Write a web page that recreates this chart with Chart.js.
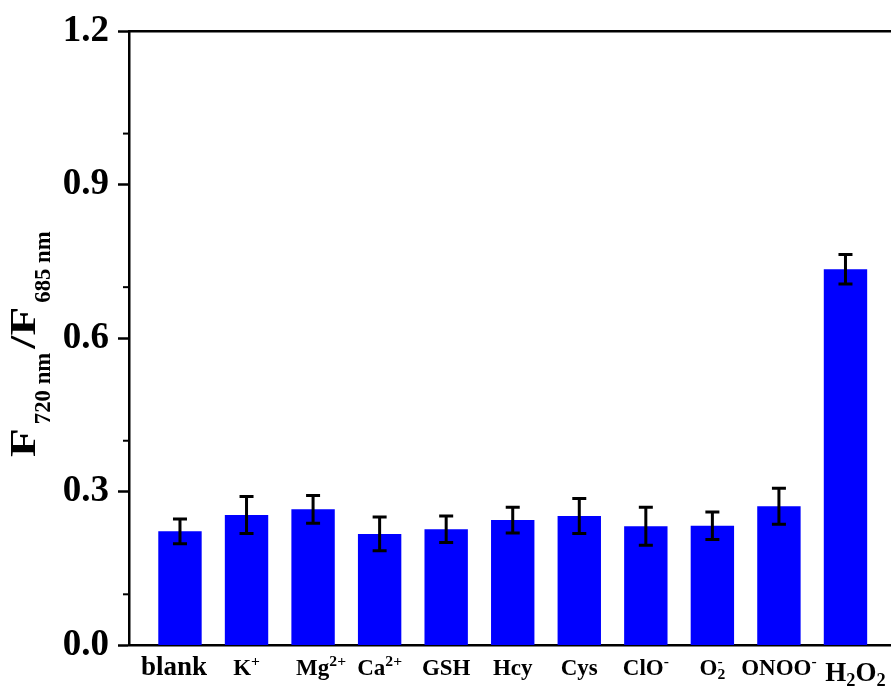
<!DOCTYPE html>
<html>
<head>
<meta charset="utf-8">
<script src="https://cdn.jsdelivr.net/npm/chart.js@4.4.0/dist/chart.umd.min.js"></script>
<style>
  html, body { margin: 0; padding: 0; background: #fff; }
  #wrap { width: 891px; height: 687px; }
</style>
</head>
<body>
<div id="wrap"><canvas id="selChart" width="891" height="687"></canvas></div>
<script>
// categories use ^ for superscript and _ for subscript
const categories = ['blank', 'K^+', 'Mg^{2+}', 'Ca^{2+}', 'GSH', 'Hcy', 'Cys', 'ClO^-', 'O_2^-', 'ONOO^-', 'H_2O_2'];
const ratios = [0.223, 0.255, 0.266, 0.218, 0.227, 0.245, 0.253, 0.233, 0.234, 0.272, 0.735];
const errors = [0.024, 0.036, 0.027, 0.033, 0.026, 0.025, 0.034, 0.037, 0.027, 0.035, 0.029];
const yTicks = [0, 0.3, 0.6, 0.9, 1.2];
const minorTicks = [0.1, 0.4, 0.7, 1.0];
const yTitle = 'F_{720 nm}/F_{685 nm}';

const FONT = '"Liberation Serif", "Times New Roman", serif';
// per-label tweaks (size in px, horizontal shift, baseline below axis)
const labelSize = { 'blank': 27, 'H_2O_2': 27 };
const labelShift = { 'blank': -6, 'Mg^{2+}': 8, 'H_2O_2': 10 };
const labelDrop = { 'H_2O_2': 35.5 };

function parseRich(s) {
  const parts = [];
  let buf = '', i = 0;
  while (i < s.length) {
    const c = s[i];
    if (c === '^' || c === '_') {
      if (buf) { parts.push({ t: buf, k: 'n' }); buf = ''; }
      let txt;
      if (s[i + 1] === '{') {
        const j = s.indexOf('}', i);
        txt = s.slice(i + 2, j);
        i = j + 1;
      } else {
        txt = s[i + 1];
        i += 2;
      }
      parts.push({ t: txt, k: c === '^' ? 'sup' : 'sub' });
    } else {
      buf += c; i++;
    }
  }
  if (buf) parts.push({ t: buf, k: 'n' });
  return parts;
}

// lays out parts; returns items with x offsets and total width
function layoutRich(ctx, parts, o) {
  const items = [];
  let x = 0, lastSubStart = null, lastSubW = 0;
  parts.forEach(p => {
    const small = p.k !== 'n';
    const size = small ? o.size * o.smallRatio : o.size;
    ctx.font = `bold ${size}px ${FONT}`;
    const sx = small ? 1 : (o.stretch || 1);
    const w = ctx.measureText(p.t).width * sx;
    let dy = 0;
    if (p.k === 'sup') dy = -o.supRaise;
    if (p.k === 'sub') dy = o.subDrop;
    if (p.k === 'sup' && lastSubStart !== null) {
      // stack sup over the preceding sub
      items.push({ t: p.t, x: lastSubStart, dy, size, sx });
      x = lastSubStart + Math.max(w, lastSubW);
      lastSubStart = null;
      return;
    }
    items.push({ t: p.t, x, dy, size, sx });
    if (p.k === 'sub') { lastSubStart = x; lastSubW = w; } else { lastSubStart = null; }
    x += w + (o.gap || 0);
  });
  return { items, width: x - (o.gap || 0) };
}

function drawRich(ctx, lay, x0, y0) {
  lay.items.forEach(it => {
    ctx.save();
    ctx.font = `bold ${it.size}px ${FONT}`;
    ctx.translate(x0 + it.x, y0 + it.dy);
    ctx.scale(it.sx, 1);
    ctx.fillText(it.t, 0, 0);
    ctx.restore();
  });
}

const decorPlugin = {
  id: 'decor',
  afterDatasetsDraw(chart) {
    const { ctx, scales: { x, y } } = chart;
    // error bars
    ctx.save();
    ctx.strokeStyle = '#000';
    ctx.lineWidth = 3;
    ratios.forEach((v, i) => {
      const px = x.getPixelForValue(i + 1);
      const top = y.getPixelForValue(v + errors[i]);
      const bot = y.getPixelForValue(v - errors[i]);
      ctx.beginPath();
      ctx.moveTo(px, top); ctx.lineTo(px, bot);
      ctx.moveTo(px - 7, top); ctx.lineTo(px + 7, top);
      ctx.moveTo(px - 7, bot); ctx.lineTo(px + 7, bot);
      ctx.stroke();
    });
    ctx.restore();
  },
  afterDraw(chart) {
    const { ctx, chartArea, scales: { x, y } } = chart;
    ctx.save();
    // top frame line
    ctx.strokeStyle = '#000';
    ctx.lineWidth = 2.5;
    ctx.beginPath();
    ctx.moveTo(chartArea.left - 1, chartArea.top);
    ctx.lineTo(chartArea.right, chartArea.top);
    ctx.stroke();
    // minor ticks
    ctx.lineWidth = 2;
    minorTicks.forEach(v => {
      const py = y.getPixelForValue(v);
      ctx.beginPath();
      ctx.moveTo(chartArea.left - 6, py);
      ctx.lineTo(chartArea.left, py);
      ctx.stroke();
    });
    // x labels
    ctx.fillStyle = '#000';
    ctx.textBaseline = 'alphabetic';
    ctx.textAlign = 'left';
    categories.forEach((c, i) => {
      const size = labelSize[c] || 23;
      const lay = layoutRich(ctx, parseRich(c), {
        size, smallRatio: 0.68, supRaise: 0.38 * size, subDrop: 0.18 * size
      });
      const cx = x.getPixelForValue(i + 1) + (labelShift[c] || 0);
      const by = chartArea.bottom + (labelDrop[c] || 29.5);
      drawRich(ctx, lay, cx - lay.width / 2, by);
    });
    // y title, rotated
    const tl = layoutRich(ctx, parseRich(yTitle), {
      size: 35, smallRatio: 0.65, supRaise: 12, subDrop: 15, stretch: 1.35, gap: 4
    });
    ctx.translate(35, 457);
    ctx.rotate(-Math.PI / 2);
    drawRich(ctx, tl, 0, 0);
    ctx.restore();
  }
};

const ctx = document.getElementById('selChart').getContext('2d');
new Chart(ctx, {
  type: 'bar',
  data: {
    datasets: [{
      data: ratios.map((v, i) => ({ x: i + 1, y: v })),
      backgroundColor: '#0000ff',
      borderWidth: 0,
      barPercentage: 0.652,
      categoryPercentage: 1
    }]
  },
  options: {
    responsive: false,
    animation: false,
    layout: { padding: { top: 29.5, right: 0, left: 0, bottom: 0 } },
    plugins: { legend: { display: false }, tooltip: { enabled: false } },
    scales: {
      x: {
        type: 'linear',
        offset: false,
        min: 0.234,
        max: 11.684,
        ticks: { display: false },
        grid: { display: false, offset: false },
        border: { display: true, color: '#000', width: 2.5 },
        afterFit: s => { s.height = 41.5; }
      },
      y: {
        min: 0,
        max: 1.2,
        afterBuildTicks: s => { s.ticks = yTicks.map(v => ({ value: v })); },
        ticks: {
          color: '#000',
          padding: 9,
          font: { family: FONT, size: 37, weight: 'bold' },
          callback: v => v.toFixed(1)
        },
        grid: { drawOnChartArea: false, drawTicks: true, tickLength: 11, tickWidth: 2.5, tickColor: '#000' },
        border: { display: true, color: '#000', width: 2.5 },
        afterFit: s => { s.width = 129; }
      }
    }
  },
  plugins: [decorPlugin]
});
</script>
</body>
</html>
